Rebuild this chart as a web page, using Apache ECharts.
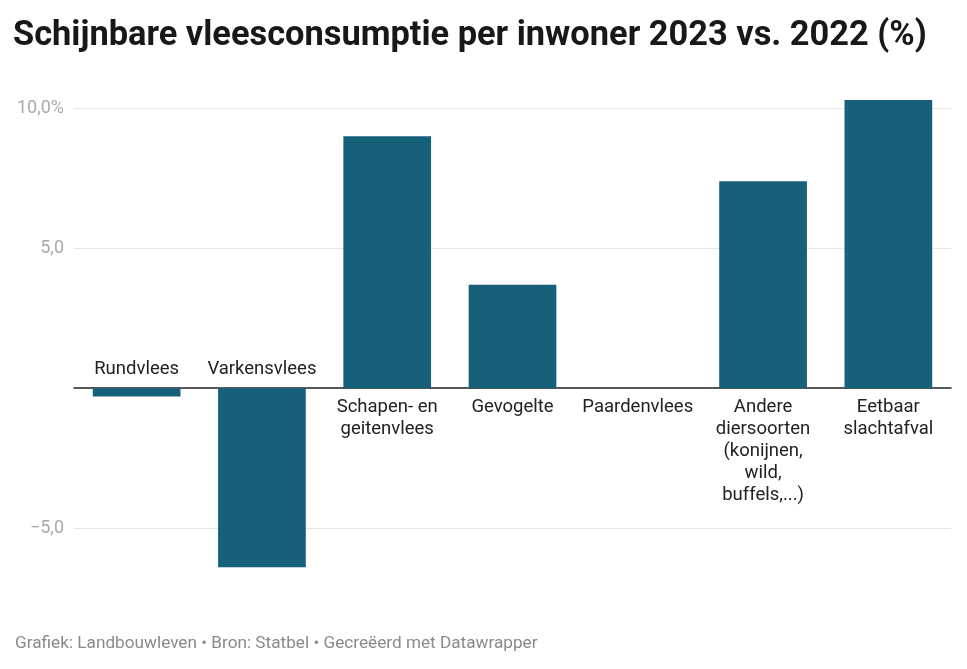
<!DOCTYPE html>
<html>
<head>
<meta charset="utf-8">
<script src="https://cdn.jsdelivr.net/npm/echarts@6/dist/echarts.min.js"></script>
<style>
  html, body { margin: 0; padding: 0; background: #fff; }
  #chart { width: 967px; height: 669px; }
</style>
</head>
<body>
<div id="chart"></div>
<script>
// categories (with the line breaks used in the labels)
const categories = [
  'Rundvlees',
  'Varkensvlees',
  'Schapen- en\ngeitenvlees',
  'Gevogelte',
  'Paardenvlees',
  'Andere\ndiersoorten\n(konijnen,\nwild,\nbuffels,...)',
  'Eetbaar\nslachtafval'
]
// change 2023 vs 2022, in %
const values = [-0.3, -6.4, 9.0, 3.7, 0, 7.4, 10.3]

const yTicks = [-5, 5, 10]
const yTickLabels = ['\u22125,0', '5,0', '10,0%']

const chart = echarts.init(document.getElementById('chart'))

const barData = values.map(function (v, i) {
  return {
    value: v,
    label: {
      show: true,
      position: v < 0 ? 'top' : 'bottom',
      formatter: categories[i]
    }
  }
})

chart.setOption({
  animation: false,
  textStyle: { fontFamily: 'Roboto' },
  title: [
    {
      text: 'Schijnbare vleesconsumptie per inwoner 2023 vs. 2022 (%)',
      left: 13,
      top: 19,
      padding: 0,
      textStyle: { fontFamily: 'Roboto', fontWeight: 'bold', fontSize: 34.4, color: '#181818' }
    },
    {
      text: 'Grafiek: Landbouwleven \u2022 Bron: Statbel \u2022 Gecre\u00eberd met Datawrapper',
      left: 15,
      top: 635,
      padding: 0,
      textStyle: { fontFamily: 'Roboto', fontWeight: 'normal', fontSize: 17.2, color: '#8a8a8a' }
    }
  ],
  grid: { left: 74, right: 16, top: 100, bottom: 99, containLabel: false },
  xAxis: {
    type: 'category',
    data: categories,
    axisLine: { onZero: true, lineStyle: { color: '#222', width: 1.5 } },
    axisTick: { show: false },
    axisLabel: { show: false },
    splitLine: { show: false }
  },
  yAxis: {
    type: 'value',
    min: -6.5,
    max: 10.3,
    axisLine: { show: false },
    axisTick: { show: false, customValues: yTicks },
    splitLine: { show: true, lineStyle: { color: '#e6e6e6', width: 1 } },
    axisLabel: {
      customValues: yTicks,
      margin: 10,
      fontSize: 18,
      color: '#aaaaaa',
      formatter: function (v) {
        return yTickLabels[yTicks.indexOf(v)]
      }
    }
  },
  series: [{
    type: 'bar',
    data: barData,
    barCategoryGap: '30%',
    itemStyle: { color: '#17607a' },
    label: {
      fontSize: 18.5,
      color: '#222',
      lineHeight: 22,
      distance: 8
    }
  }]
})
</script>
</body>
</html>
